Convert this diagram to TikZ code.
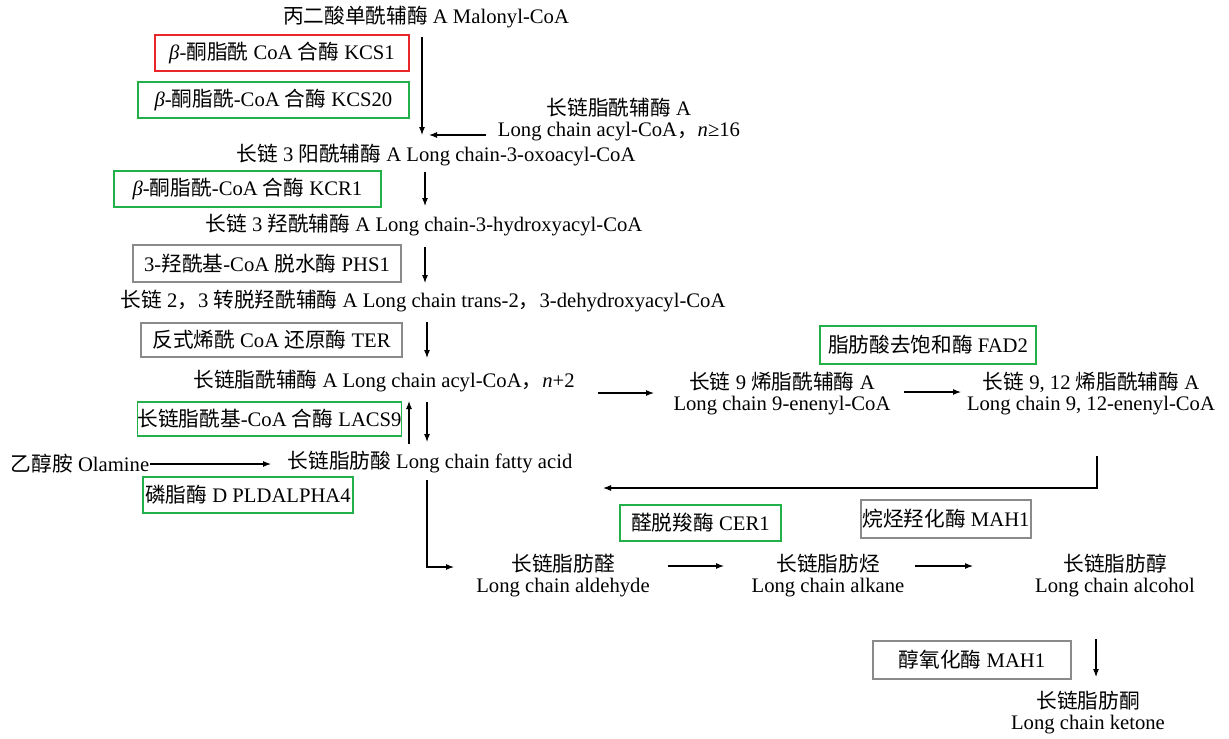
\documentclass[tikz,border=0pt]{standalone}
\usepackage{fontspec}
\setmainfont{Liberation Serif}
\newfontfamily\cjk{Noto Sans CJK SC}
\newcommand\zh[1]{{\cjk #1}}
\usetikzlibrary{arrows.meta}
\definecolor{kred}{HTML}{E8262B}
\definecolor{kgreen}{HTML}{22B04B}
\definecolor{kgray}{HTML}{8A8A8A}
\tikzset{
  lbl/.style={inner sep=0pt, align=center, font=\fontsize{15.5pt}{15.75pt}\selectfont},
  ebox/.style={draw, line width=1.4pt, inner sep=0pt, font=\fontsize{15.5pt}{15.75pt}\selectfont},
  redbox/.style={ebox, draw=kred},
  greenbox/.style={ebox, draw=kgreen},
  graybox/.style={ebox, draw=kgray, line width=1.6pt},
  arr/.style={-{Latex[length=6pt,width=4.5pt]}, line width=0.8pt},
}
\begin{document}
\begin{tikzpicture}[x=0.75pt,y=-0.75pt]
\useasboundingbox (0,0) rectangle (1229,739);
% main chain texts
\node[lbl] (mal) at (426,17) {\zh{丙二酸单酰辅酶} A Malonyl-CoA};
\node[lbl] (acyl16) at (619,120) {\zh{长链脂酰辅酶} A\\Long chain acyl-CoA\zh{，}\textit{n}≥16};
\node[lbl] (oxo) at (436,155) {\zh{长链} 3 \zh{阳酰辅酶} A Long chain-3-oxoacyl-CoA};
\node[lbl] (hyd) at (424,225) {\zh{长链} 3 \zh{羟酰辅酶} A Long chain-3-hydroxyacyl-CoA};
\node[lbl] (trans) at (423,301) {\zh{长链} 2\zh{，}3 \zh{转脱羟酰辅酶} A Long chain trans-2\zh{，}3-dehydroxyacyl-CoA};
\node[lbl] (acyl2) at (384,381) {\zh{长链脂酰辅酶} A Long chain acyl-CoA\zh{，}\textit{n}+2};
\node[lbl] (fatty) at (430,462) {\zh{长链脂肪酸} Long chain fatty acid};
\node[lbl] (olam) at (80,464) {\zh{乙醇胺} Olamine};
\node[lbl] (ene9) at (782,394) {\zh{长链} 9 \zh{烯脂酰辅酶} A\\Long chain 9-enenyl-CoA};
\node[lbl] (ene12) at (1091,394) {\zh{长链} 9, 12 \zh{烯脂酰辅酶} A\\Long chain 9, 12-enenyl-CoA};
\node[lbl] (ald) at (563,576) {\zh{长链脂肪醛}\\Long chain aldehyde};
\node[lbl] (alk) at (828,576) {\zh{长链脂肪烃}\\Long chain alkane};
\node[lbl] (alc) at (1115,576) {\zh{长链脂肪醇}\\Long chain alcohol};
\node[lbl] (ket) at (1088,713) {\zh{长链脂肪酮}\\Long chain ketone};
% enzyme boxes
\node[redbox, minimum width={254*0.75pt}, minimum height={36*0.75pt}] (kcs1) at (282,53) {\textit{β}-\zh{酮脂酰} CoA \zh{合酶} KCS1};
\node[greenbox, minimum width={271*0.75pt}, minimum height={36*0.75pt}] (kcs20) at (273.5,100) {\textit{β}-\zh{酮脂酰}-CoA \zh{合酶} KCS20};
\node[greenbox, minimum width={267*0.75pt}, minimum height={36*0.75pt}] (kcr1) at (247.5,189) {\textit{β}-\zh{酮脂酰}-CoA \zh{合酶} KCR1};
\node[graybox, minimum width={268*0.75pt}, minimum height={37*0.75pt}] (phs1) at (267,263.5) {3-\zh{羟酰基}-CoA \zh{脱水酶} PHS1};
\node[graybox, minimum width={261*0.75pt}, minimum height={34*0.75pt}] (ter) at (271.5,340) {\zh{反式烯酰} CoA \zh{还原酶} TER};
\node[greenbox, minimum width={253*0.75pt}, minimum height={34*0.75pt}] (lacs9) at (269.5,419) {\zh{长链脂酰基}-CoA \zh{合酶} LACS9};
\node[greenbox, minimum width={210*0.75pt}, minimum height={36*0.75pt}] (pld) at (248,495) {\zh{磷脂酶} D PLDALPHA4};
\node[greenbox, minimum width={216*0.75pt}, minimum height={38*0.75pt}] (fad2) at (928,345) {\zh{脂肪酸去饱和酶} FAD2};
\node[greenbox, minimum width={161*0.75pt}, minimum height={36*0.75pt}] (cer1) at (700.5,523) {\zh{醛脱羧酶} CER1};
\node[graybox, minimum width={170*0.75pt}, minimum height={38*0.75pt}] (mah1a) at (946,519) {\zh{烷烃羟化酶} MAH1};
\node[graybox, minimum width={198*0.75pt}, minimum height={38*0.75pt}] (mah1b) at (972,660) {\zh{醇氧化酶} MAH1};
% connector end points
\coordinate (m1) at (422,37);   \coordinate (m2) at (422,135);
\coordinate (l1) at (486,135);  \coordinate (l2) at (429,135);
\coordinate (o1) at (425,172);  \coordinate (o2) at (425,206);
\coordinate (h1) at (425,247);  \coordinate (h2) at (425,283);
\coordinate (t1) at (427,322);  \coordinate (t2) at (427,358);
\coordinate (u1) at (409,444);  \coordinate (u2) at (409,401);
\coordinate (d1) at (427,402);  \coordinate (d2) at (427,442);
\coordinate (ol1) at (150,464); \coordinate (ol2) at (271,464);
\coordinate (f1) at (427,480);  \coordinate (f2) at (427,567); \coordinate (f3) at (454,567);
\coordinate (e1) at (598,393);  \coordinate (e2) at (654,393);
\coordinate (g1) at (904,392);  \coordinate (g2) at (961,392);
\coordinate (r1) at (1097,456); \coordinate (r2) at (1097,488); \coordinate (r3) at (603,488);
\coordinate (a1) at (668,566);  \coordinate (a2) at (724,566);
\coordinate (b1) at (915,566);  \coordinate (b2) at (973,566);
\coordinate (k1) at (1096,639); \coordinate (k2) at (1096,677);
% connectors
\draw[arr] (m1) -- (m2);
\draw[arr] (l1) -- (l2);
\draw[arr] (o1) -- (o2);
\draw[arr] (h1) -- (h2);
\draw[arr] (t1) -- (t2);
\draw[arr] (u1) -- (u2);
\draw[arr] (d1) -- (d2);
\draw[arr] (ol1) -- (ol2);
\draw[arr] (f1) -- (f2) -- (f3);
\draw[arr] (e1) -- (e2);
\draw[arr] (g1) -- (g2);
\draw[arr] (r1) -- (r2) -- (r3);
\draw[arr] (a1) -- (a2);
\draw[arr] (b1) -- (b2);
\draw[arr] (k1) -- (k2);
\end{tikzpicture}
\end{document}
